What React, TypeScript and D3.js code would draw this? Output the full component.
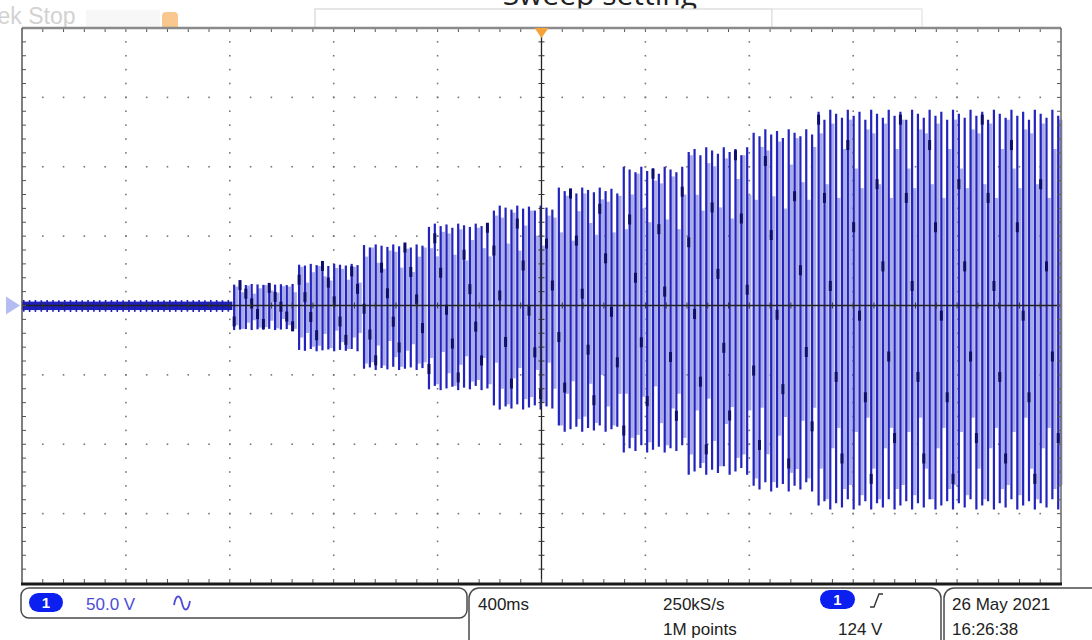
import React from 'react';
import * as d3 from 'd3';

const W = 1092;
const H = 640;

// scope settings (400 ms/div, 50 V/div, trigger in the centre)
const timeDomain = [-2, 2];
const voltDomain = [-200, 200];

// burst stages: start time (s), upper and lower envelope (V)
const stageStart = [-2.0, -1.19, -0.94, -0.69, -0.44, -0.19, 0.06, 0.31, 0.56, 0.81, 1.06];
const stageHigh = [4, 15.5, 30, 44, 59, 72, 85, 100, 114, 127, 141];
const stageLow = [-4.7, -17.7, -33, -46.5, -61, -75, -91, -106, -122, -134, -147];
const recordEnd = 2.0;
const pulsePeriod = 0.0225;
// knee (dwell) levels of the aliased pulses, fraction of envelope, repeating
const kneeLevels = [0.82, 0.4, -0.05, -0.45, -0.85, 0.62, 0.2, -0.25, -0.65, 0.95, 0.55, 0.1, -0.35, -0.75];
const tipLevels = [1, 0.97, 0.99, 0.95, 1, 0.98, 0.96];
const fillLevels = [0.88, 0.62, 0.93, 0.55, 0.8, 0.95, 0.7, 0.6, 0.9];

const title = 'Sweep setting';
const scopeState = 'Tek Stop';
const chLabel = '1';
const chScale = '50.0 V';
const timeScale = '400ms';
const sampleRate = '250kS/s';
const recordLen = '1M points';
const trigLevel = '124 V';
const dateText = '26 May 2021';
const timeText = '16:26:38';

const App = () => {
  const x = d3.scaleLinear().domain(timeDomain).range([22, 1061]);
  const y = d3.scaleLinear().domain(voltDomain).range([583, 28]);

  const majT = d3.range(1, 10).map(i => -2 + i * 0.4);
  const majV = d3.range(1, 8).map(i => -200 + i * 50);
  const minT = d3.range(1, 50).map(i => -2 + i * 0.08);
  const minV = d3.range(1, 40).map(i => -200 + i * 10);

  const dots: React.ReactNode[] = [];
  majT.forEach((t, i) => {
    if (Math.abs(t) < 1e-6) return;
    minV.forEach((v, j) => dots.push(<rect key={`dv${i}-${j}`} x={x(t) - 0.8} y={y(v) - 0.8} width={1.6} height={1.6} fill="#777" />));
  });
  majV.forEach((v, i) => {
    if (Math.abs(v) < 1e-6) return;
    minT.forEach((t, j) => dots.push(<rect key={`dh${i}-${j}`} x={x(t) - 0.8} y={y(v) - 0.8} width={1.6} height={1.6} fill="#777" />));
  });

  // waveform marks
  const strips: React.ReactNode[] = [];
  const lines: React.ReactNode[] = [];
  const knees: React.ReactNode[] = [];
  let k = 0;
  stageStart.forEach((s0, i) => {
    const s1 = i < stageStart.length - 1 ? stageStart[i + 1] : recordEnd;
    const hi = stageHigh[i];
    const lo = stageLow[i];
    if (i === 0) {
      strips.push(<rect key="noise" x={x(s0)} width={x(s1) - x(s0)} y={y(hi * 0.7)} height={y(lo * 0.7) - y(hi * 0.7)} fill="#2020bc" />);
    }
    for (let t = s0 + pulsePeriod * 0.3; t < s1 - pulsePeriod * 0.2; t += pulsePeriod) {
      const px = x(t);
      const gap = x(t + pulsePeriod) - px;
      if (i > 0) {
        const fa = fillLevels[k % fillLevels.length];
        const fb = fillLevels[(k + 4) % fillLevels.length];
        strips.push(<rect key={`s${k}`} x={px} width={gap - 1.6} y={y(hi * fa)} height={y(lo * fb) - y(hi * fa)} fill="#aaace9" />);
      }
      const top = y(hi * tipLevels[k % tipLevels.length]);
      const bot = y(lo * tipLevels[(k + 3) % tipLevels.length]);
      lines.push(<line key={`l${k}`} x1={px} x2={px} y1={top} y2={bot} stroke={i === 0 ? '#1d1db6' : '#2323bd'} strokeWidth={i === 0 ? 1.6 : 2.2} />);
      if (i > 0) {
        const kl = kneeLevels[k % kneeLevels.length];
        const ky = kl >= 0 ? y(hi * kl) : y(-lo * kl);
        knees.push(<line key={`k${k}`} x1={px} x2={px} y1={ky - 5} y2={ky + 5} stroke="#0d0d6c" strokeWidth={3} />);
      }
      k++;
    }
  });

  const font = "'Liberation Sans', Arial, sans-serif";

  return (
    <svg width={W} height={H} style={{ position: 'absolute', left: 0, top: 0, background: '#fff' }} fontFamily={font}>
      {/* title, cut at the top */}
      <text x={697} y={5} textAnchor="end" fontSize={30} fontFamily="'Open Sans', sans-serif" fill="#222">{title}</text>

      {/* top bar */}
      <text x={-14} y={24} fontSize={23} fill="#d2d2d2">{scopeState}</text>
      <rect x={86} y={10} width={74} height={18} fill="#f7f7f7" />
      <path d="M162 28 L162 16 Q162 12 166 12 L174 12 Q178 12 178 16 L178 28 Z" fill="#f8c88e" />
      <rect x={315} y={9} width={457} height={19} fill="#fff" stroke="#d6d6d6" strokeWidth={1.2} />
      <rect x={772} y={9} width={150} height={19} fill="#fff" stroke="#e2e2e2" strokeWidth={1.2} />

      {/* graticule */}
      {dots}
      {strips}
      {lines}
      {knees}

      {/* centre crosshair */}
      <line x1={x(0)} x2={x(0)} y1={y(200)} y2={y(-200)} stroke="#222" strokeWidth={1.3} />
      <line x1={x(-2)} x2={x(2)} y1={y(0)} y2={y(0)} stroke="#222" strokeWidth={1.5} />
      {minV.map((v, i) => <line key={`cv${i}`} x1={x(0) - 3} x2={x(0) + 3} y1={y(v)} y2={y(v)} stroke="#333" strokeWidth={1} />)}
      {minT.map((t, i) => <line key={`ch${i}`} x1={x(t)} x2={x(t)} y1={y(0) - 3} y2={y(0) + 3} stroke="#333" strokeWidth={1} />)}

      {/* border with ticks */}
      {minT.map((t, i) => (
        <g key={`bt${i}`} stroke="#555" strokeWidth={1}>
          <line x1={x(t)} x2={x(t)} y1={y(200)} y2={y(200) + 4} />
          <line x1={x(t)} x2={x(t)} y1={y(-200)} y2={y(-200) - 4} />
        </g>
      ))}
      {minV.map((v, i) => (
        <g key={`bv${i}`} stroke="#555" strokeWidth={1}>
          <line x1={x(-2)} x2={x(-2) + 4} y1={y(v)} y2={y(v)} />
          <line x1={x(2)} x2={x(2) - 4} y1={y(v)} y2={y(v)} />
        </g>
      ))}
      <line x1={x(-2)} x2={x(2)} y1={y(200)} y2={y(200)} stroke="#8a8a8a" strokeWidth={2.5} />
      <line x1={x(-2)} x2={x(-2)} y1={y(200)} y2={y(-200)} stroke="#555" strokeWidth={1.5} />
      <line x1={x(2)} x2={x(2)} y1={y(200)} y2={y(-200)} stroke="#666" strokeWidth={1.5} />
      <line x1={x(-2) - 1} x2={x(2) + 1} y1={y(-200) + 1} y2={y(-200) + 1} stroke="#1a1a1a" strokeWidth={3} />

      {/* markers */}
      <path d={`M${x(0) - 7} ${y(200)} L${x(0) + 7} ${y(200)} L${x(0)} ${y(200) + 10} Z`} fill="#f5a23a" />
      <path d={`M6 ${y(0) - 9} L20 ${y(0)} L6 ${y(0) + 9} Z`} fill="#b4bcf2" />

      {/* status bar */}
      <rect x={21} y={588} width={446} height={30} rx={8} fill="#fff" stroke="#4a4a4a" strokeWidth={1.5} />
      <rect x={29} y={593} width={34} height={19} rx={9.5} fill="#0b1ff0" />
      <text x={46} y={608} textAnchor="middle" fontSize={15} fontWeight="bold" fill="#fff">{chLabel}</text>
      <text x={86} y={610} fontSize={17} fill="#4c4cd6">{chScale}</text>
      <path d="M174 605 C176 594, 180 594, 182 603 C184 612, 188 612, 190 601" stroke="#4c4cd6" strokeWidth={1.8} fill="none" />

      <rect x={469} y={588} width={472} height={62} rx={10} fill="#fff" stroke="#4a4a4a" strokeWidth={1.5} />
      <text x={478} y={610} fontSize={17} fill="#222">{timeScale}</text>
      <text x={663} y={610} fontSize={17} fill="#222">{sampleRate}</text>
      <text x={663} y={635} fontSize={17} fill="#222">{recordLen}</text>
      <rect x={820} y={590} width={35} height={19} rx={9.5} fill="#0b1ff0" />
      <text x={837.5} y={605} textAnchor="middle" fontSize={15} fontWeight="bold" fill="#fff">{chLabel}</text>
      <path d="M870 607 L874 607 L879 594 L883 594" stroke="#333" strokeWidth={1.4} fill="none" />
      <text x={838} y={635} fontSize={17} fill="#222">{trigLevel}</text>

      <rect x={944} y={588} width={170} height={62} rx={10} fill="#fff" stroke="#4a4a4a" strokeWidth={1.5} />
      <text x={952} y={610} fontSize={17} fill="#222">{dateText}</text>
      <text x={952} y={635} fontSize={17} fill="#222">{timeText}</text>
    </svg>
  );
};

export default App;
